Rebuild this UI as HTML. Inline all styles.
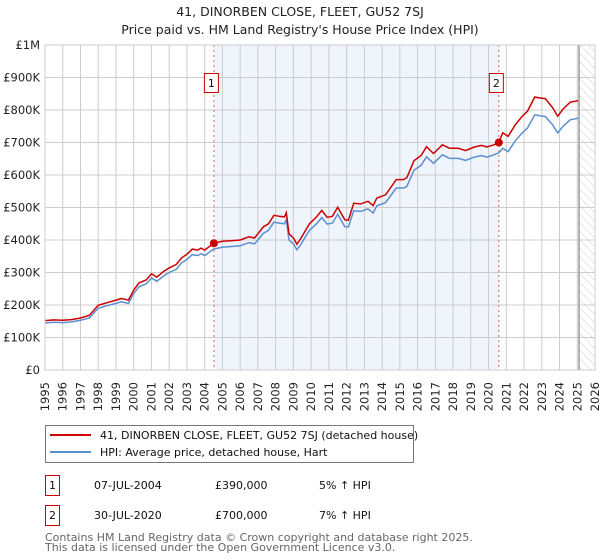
<!DOCTYPE html>
<html><head><meta charset="utf-8"><style>
body{margin:0;background:#fff;}
svg{display:block;font-family:"DejaVu Sans","Liberation Sans",sans-serif;}
</style></head><body>
<svg id="c" width="600" height="560" viewBox="0 0 600 560">
<defs><pattern id="hatch" width="6" height="6" patternUnits="userSpaceOnUse" patternTransform="rotate(-45)"><line x1="0" y1="0" x2="0" y2="6" stroke="#ccc" stroke-width="1"/></pattern></defs>
<text x="300" y="16" text-anchor="middle" font-size="12.5" fill="#222">41, DINORBEN CLOSE, FLEET, GU52 7SJ</text>
<text x="300" y="34" text-anchor="middle" font-size="12.5" fill="#222">Price paid vs. HM Land Registry's House Price Index (HPI)</text>
<g id="plot"></g>
<g>
<rect x="45.5" y="425.5" width="368" height="37" fill="#fff" stroke="#777"/>
<line x1="50" y1="435" x2="91" y2="435" stroke="#cc0000" stroke-width="2"/>
<text x="100" y="439" font-size="11" fill="#111">41, DINORBEN CLOSE, FLEET, GU52 7SJ (detached house)</text>
<line x1="50" y1="452" x2="91" y2="452" stroke="#5b8fd0" stroke-width="2"/>
<text x="100" y="456" font-size="11" fill="#111">HPI: Average price, detached house, Hart</text>
</g>
<g font-size="11" fill="#111">
<rect x="45.5" y="475.5" width="14" height="20" fill="#fff" stroke="#cc0000"/><text x="52.5" y="489" text-anchor="middle">1</text>
<text x="94" y="489">07-JUL-2004</text><text x="215" y="489">£390,000</text><text x="319" y="489">5% ↑ HPI</text>
<rect x="45.5" y="505.5" width="14" height="20" fill="#fff" stroke="#cc0000"/><text x="52.5" y="519" text-anchor="middle">2</text>
<text x="94" y="519">30-JUL-2020</text><text x="215" y="519">£700,000</text><text x="319" y="519">7% ↑ HPI</text>
</g>
<text x="45" y="541" font-size="11" fill="#666">Contains HM Land Registry data © Crown copyright and database right 2025.</text>
<text x="45" y="551" font-size="11" fill="#666">This data is licensed under the Open Government Licence v3.0.</text>
</svg>
<script>
const years=[1995.0,1995.5,1996.0,1996.5,1997.0,1997.5,1998.0,1998.5,1999.0,1999.3,1999.7,2000.0,2000.3,2000.7,2001.0,2001.3,2001.7,2002.0,2002.4,2002.7,2003.0,2003.3,2003.6,2003.8,2004.0,2004.5,2005.0,2005.5,2006.0,2006.5,2006.8,2007.0,2007.3,2007.6,2007.9,2008.2,2008.5,2008.6,2008.75,2009.0,2009.2,2009.4,2009.9,2010.3,2010.6,2010.9,2011.2,2011.5,2011.9,2012.1,2012.4,2012.8,2013.2,2013.5,2013.7,2014.2,2014.8,2015.2,2015.4,2015.8,2016.2,2016.5,2016.9,2017.4,2017.8,2018.3,2018.7,2019.2,2019.6,2019.9,2020.3,2020.58,2020.8,2021.1,2021.5,2021.9,2022.2,2022.6,2022.9,2023.2,2023.6,2023.9,2024.2,2024.6,2024.9,2025.05];
const hpi=[145,147,146,148,153,160,190,198,205,210,205,235,256,265,283,273,290,300,310,330,340,355,352,358,352,372,378,380,382,392,388,400,420,430,455,452,450,462,400,388,370,385,430,450,469,449,452,479,441,440,490,488,496,483,505,515,560,560,565,615,630,656,636,662,651,651,645,655,660,655,662,668,682,672,705,730,745,785,782,780,755,730,750,770,773,775];
const property=[152,154,153,155,160,168,199,207,215,220,215,246,268,277,296,286,304,314,325,345,356,372,369,375,369,390,396,398,400,410,406,419,440,450,476,473,471,484,419,406,387,403,450,471,491,470,473,501,462,461,513,511,519,506,529,539,586,586,592,644,660,687,666,693,682,682,675,686,691,686,693,700,730,719,754,781,797,840,837,835,808,781,803,824,827,829];
const yTicks=[0,100,200,300,400,500,600,700,800,900,1000];
const yTickLabels=["£0","£100K","£200K","£300K","£400K","£500K","£600K","£700K","£800K","£900K","£1M"];
const xTicks=[1995,1996,1997,1998,1999,2000,2001,2002,2003,2004,2005,2006,2007,2008,2009,2010,2011,2012,2013,2014,2015,2016,2017,2018,2019,2020,2021,2022,2023,2024,2025,2026];
const saleYears=[2004.52,2020.58];
const salePrices=[390,700];
const saleLabels=["1","2"];
const NS="http://www.w3.org/2000/svg";
const L=45,R=595,T=45,B=370;
const xs=y=>L+(y-1995)/(2026-1995)*(R-L);
const ys=v=>B-v/1000*(B-T);
const g=document.getElementById('plot');
function mk(tag,attrs,parent){const e=document.createElementNS(NS,tag);for(const k in attrs)e.setAttribute(k,attrs[k]);(parent||g).appendChild(e);return e;}
const sh=mk('rect',{x:xs(saleYears[0]),y:T,width:xs(saleYears[1])-xs(saleYears[0]),height:B-T,fill:'#f0f4fc'});


const hx=xs(2025.1);
const ht=mk('rect',{x:hx,y:T,width:R-hx,height:B-T,fill:'url(#hatch)'});


yTicks.forEach((v,i)=>{
 const l=mk('line',{x1:L,x2:R,y1:ys(v),y2:ys(v),stroke:'#ccc','stroke-width':1});
 
 
 const t=mk('text',{x:L-5,y:ys(v)+4,'text-anchor':'end','font-size':11.5,fill:'#222'});
 t.textContent=yTickLabels[i];
 
 
});
xTicks.forEach(yr=>{
 const x=xs(yr);
 const l=mk('line',{x1:x,x2:x,y1:T,y2:B,stroke:'#ccc','stroke-width':1});
 
 
 const t=mk('text',{x:x+4,y:B+12,'text-anchor':'end','font-size':11.5,fill:'#222',transform:'rotate(-90 '+(x+4)+' '+(B+12)+')'});
 t.textContent=yr;
 
 
});
const vl=mk('line',{x1:hx,x2:hx,y1:T,y2:B,stroke:'#999','stroke-width':1.5});


const pb=mk('path',{d:years.map((y,i)=>(i?'L':'M')+xs(y).toFixed(1)+','+ys(hpi[i]).toFixed(1)).join(''),fill:'none',stroke:'#5b8fd0','stroke-width':1.5});


const pr=mk('path',{d:years.map((y,i)=>(i?'L':'M')+xs(y).toFixed(1)+','+ys(property[i]).toFixed(1)).join(''),fill:'none',stroke:'#cc0000','stroke-width':1.5});


saleYears.forEach((sy,i)=>{
 const x=xs(sy);
 const d=mk('line',{x1:x,x2:x,y1:T,y2:B,stroke:'#e06060','stroke-width':1,'stroke-dasharray':'2,3'});
 
 
 const b=mk('rect',{x:x-9.5,y:73.5,width:14,height:19,fill:'#fff',stroke:'#cc0000'});
 
 
 const t=mk('text',{x:x-2.5,y:87,'text-anchor':'middle','font-size':11,fill:'#111'});
 t.textContent=saleLabels[i];
 
 
 const c=mk('circle',{cx:x,cy:ys(salePrices[i]),r:4,fill:'#cc0000'});
 
 
});
const fr=mk('rect',{x:L,y:T,width:R-L,height:B-T,fill:'none',stroke:'#ccc'});


</script>
</body></html>
